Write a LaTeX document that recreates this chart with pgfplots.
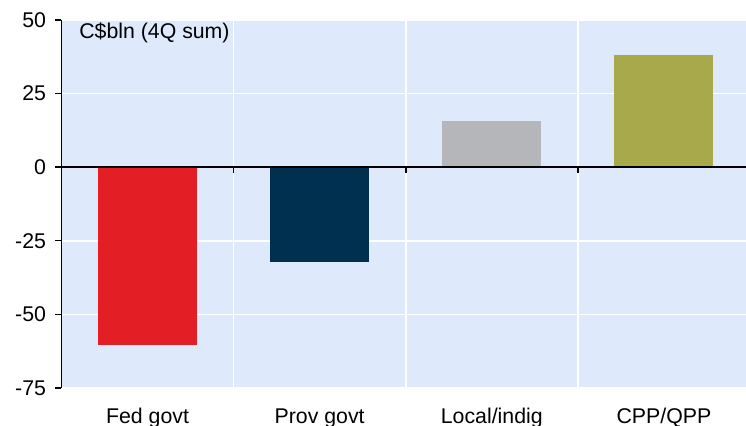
\documentclass[border=0pt]{standalone}
\usepackage{pgfplots}
\pgfplotsset{compat=1.18}
\usepackage{fontspec}
\setmainfont{Liberation Sans}
\definecolor{bgc}{RGB}{222,234,251}
\definecolor{cred}{RGB}{227,30,36}
\definecolor{cnavy}{RGB}{0,48,80}
\definecolor{cgray}{RGB}{181,182,185}
\definecolor{colive}{RGB}{167,169,74}
\begin{document}
\begin{tikzpicture}
\useasboundingbox (0,0) rectangle (746bp,426bp);
\begin{axis}[
  at={(61.5bp,38bp)}, anchor=south west,
  scale only axis, width=684.5bp, height=368bp,
  xmin=-0.5, xmax=3.477, ymin=-75, ymax=50,
  axis background/.style={fill=bgc},
  axis x line*=bottom, axis y line*=left,
  x axis line style={draw=none},
  y axis line style={black, line width=1.4bp},
  xtick={0,1,2,3},
  xticklabels={Fed govt, Prov govt, Local/indig, CPP/QPP},
  minor xtick={0.5,1.5,2.5},
  xminorgrids=true,
  minor x grid style={white, line width=1.6bp},
  x tick style={draw=none},
  ytick={-75,-50,-25,0,25,50},
  ymajorgrids=true,
  major y grid style={white, line width=1.6bp},
  y tick style={black, line width=1.4bp},
  tick align=outside,
  major tick length=6bp,
  /pgf/number format/assume math mode=true,
  tick label style={font=\fontsize{21.3bp}{25bp}\selectfont},
  yticklabel style={xshift=-6bp},
  xticklabel style={anchor=base, yshift=-29bp},
  ybar, bar width=0.576, bar shift=0pt,
  clip=false,
]
\addplot[fill=cred, draw=none] coordinates {(0,-60.5)};
\addplot[fill=cnavy, draw=none] coordinates {(1,-32.2)};
\addplot[fill=cgray, draw=none] coordinates {(2,15.6)};
\addplot[fill=colive, draw=none] coordinates {(3,38.1)};
\draw[black, line width=1.6bp] (axis cs:-0.5,0) -- (axis cs:3.477,0);
\draw[black, line width=1.6bp] (axis cs:0.5,0) -- ([yshift=-6bp]axis cs:0.5,0);
\draw[black, line width=1.6bp] (axis cs:1.5,0) -- ([yshift=-6bp]axis cs:1.5,0);
\draw[black, line width=1.6bp] (axis cs:2.5,0) -- ([yshift=-6bp]axis cs:2.5,0);
\node[anchor=base west, font=\fontsize{21.3bp}{25bp}\selectfont, inner sep=0pt] at (rel axis cs:0.0257,0.951) {C\$bln (4Q sum)};
\end{axis}
\end{tikzpicture}
\end{document}
